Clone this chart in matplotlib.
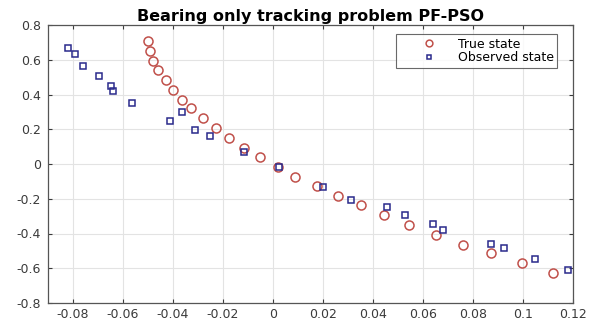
import matplotlib.pyplot as plt

plt.rcParams['font.family'] = ['DejaVu Sans']

# true target positions
true_x = [-0.0501, -0.0492, -0.0479, -0.0459, -0.0429, -0.0401, -0.0365, -0.0327,
          -0.0281, -0.0228, -0.0177, -0.0115, -0.0052, 0.0021, 0.0088, 0.0175,
          0.0261, 0.0351, 0.0445, 0.0543, 0.0651, 0.0761, 0.0872, 0.0995, 0.1121]
true_y = [0.707, 0.651, 0.593, 0.541, 0.483, 0.427, 0.371, 0.321,
          0.265, 0.205, 0.149, 0.093, 0.041, -0.016, -0.073, -0.128,
          -0.184, -0.238, -0.292, -0.350, -0.406, -0.464, -0.514, -0.572, -0.628]

# noisy observations
obs_x = [-0.0819, -0.0792, -0.0759, -0.0695, -0.0648, -0.0641, -0.0565, -0.0411,
         -0.0365, -0.0312, -0.0252, -0.0115, 0.0025, 0.0201, 0.0311, 0.0457,
         0.0529, 0.0641, 0.0681, 0.0872, 0.0924, 0.1049, 0.1179]
obs_y = [0.665, 0.632, 0.564, 0.509, 0.451, 0.419, 0.352, 0.249,
         0.302, 0.197, 0.164, 0.071, -0.016, -0.132, -0.209, -0.248,
         -0.294, -0.346, -0.379, -0.458, -0.481, -0.547, -0.611]

x_ticks = [-0.08, -0.06, -0.04, -0.02, 0, 0.02, 0.04, 0.06, 0.08, 0.1, 0.12]
x_labels = ['-0.08', '-0.06', '-0.04', '-0.02', '0', '0.02', '0.04', '0.06', '0.08', '0.1', '0.12']
y_ticks = [-0.8, -0.6, -0.4, -0.2, 0, 0.2, 0.4, 0.6, 0.8]
y_labels = ['-0.8', '-0.6', '-0.4', '-0.2', '0', '0.2', '0.4', '0.6', '0.8']

fig = plt.figure(figsize=(6.01, 3.25), dpi=100)
ax = fig.add_axes([48 / 601, 22 / 325, 525 / 601, 278 / 325])

ax.plot(true_x, true_y, 'o', markersize=6.5, markerfacecolor='none',
        markeredgecolor='#c0504a', markeredgewidth=1.1, label='True state')
ax.plot(obs_x, obs_y, 's', markersize=4.8, markerfacecolor='none',
        markeredgecolor='#2a2a8c', markeredgewidth=1.1, label='Observed state')

ax.set_xlim(-0.09, 0.12)
ax.set_ylim(-0.8, 0.8)
ax.set_xticks(x_ticks)
ax.set_xticklabels(x_labels)
ax.set_yticks(y_ticks)
ax.set_yticklabels(y_labels)
ax.tick_params(direction='in', top=True, right=True, labelsize=9,
               colors='#3a3a3a', length=3)
ax.tick_params(axis='y', pad=5)
ax.grid(True, color='#e3e3e3', linewidth=0.8)
for s in ax.spines.values():
    s.set_color('#555555')
    s.set_linewidth(0.9)

ax.set_title('Bearing only tracking problem PF-PSO', fontsize=11.5,
             fontweight='bold', pad=3)
leg = ax.legend(loc='upper right', fontsize=9, frameon=True, fancybox=False,
                edgecolor='#444444', borderpad=0.3, handletextpad=0.0,
                handlelength=4.6, labelspacing=0.05, markerscale=0.75,
                bbox_to_anchor=(0.982, 0.99))
leg.get_frame().set_linewidth(0.8)

fig.savefig('out.png', dpi=100)
